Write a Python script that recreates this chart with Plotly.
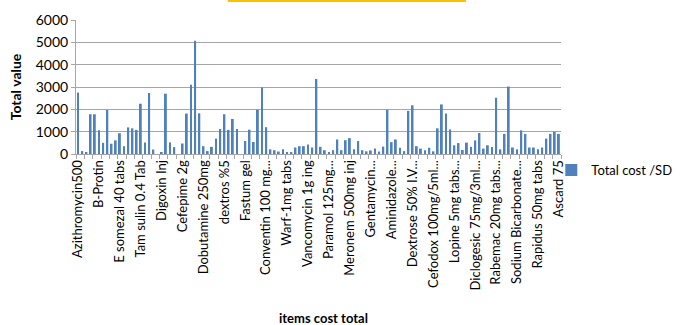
import plotly.graph_objects as go

# Labelled items (every 5th item on the axis)
labels = [
    "Azithromycin500", "B-Protin", "E somezal 40 tabs", "Tam sulin 0.4 Tab",
    "Digoxin Inj", "Cefepime 2g", "Dobutamine 250mg", "dextros %5",
    "Fastum gel", "Conventin 100 mg...", "Warf-1mg tabs", "Vancomycin 1g ing",
    "Paramol 125mg...", "Meronem 500mg inj", "Gentamycin...", "Aminidazole...",
    "Dextrose 50% I.V...", "Cefodox 100mg/5ml...", "Lopine 5mg tabs...",
    "Diclogesic 75mg/3ml...", "Rabemac 20mg tabs...", "Sodium Bicarbonate...",
    "Rapidus 50mg tabs", "Ascard 75",
]
label_step = 5

# Total cost per item
total_cost = [
    2750, 130, 60, 1780, 1780, 1060, 500, 1970, 460, 610,
    930, 350, 1190, 1150, 1080, 2250, 520, 2730, 200, 0,
    60, 2700, 520, 310, 0, 470, 1810, 3100, 5070, 1820,
    350, 130, 320, 690, 1120, 1780, 1080, 1570, 1120, 0,
    580, 1090, 540, 1980, 2980, 1200, 210, 170, 110, 210,
    80, 80, 290, 350, 350, 430, 290, 3360, 320, 170,
    80, 170, 650, 170, 620, 710, 210, 580, 170, 120,
    160, 250, 110, 330, 1980, 530, 650, 280, 130, 1930,
    2180, 350, 240, 170, 280, 120, 1150, 2220, 1810, 1100,
    390, 490, 180, 510, 320, 610, 940, 240, 390, 310,
    2520, 210, 900, 3020, 290, 210, 1060, 900, 290, 290,
    210, 290, 690, 900, 990, 900,
]

idx = list(range(len(total_cost)))
FONT = "Lato, 'Open Sans', sans-serif"
GRID = "#A6A6A6"

fig = go.Figure()
fig.add_trace(go.Bar(
    x=idx, y=total_cost, name="Total cost /SD",
    marker=dict(color="#4F81BD", line=dict(width=0)),
))

fig.update_layout(
    width=694, height=325,
    margin=dict(l=76, r=133, t=20, b=171),
    paper_bgcolor="white", plot_bgcolor="white",
    bargap=0.55,
    font=dict(family=FONT, size=13, color="#000000"),
    showlegend=True,
    legend=dict(x=0.980, y=-0.12, xanchor="left", yanchor="middle",
                font=dict(size=13), itemwidth=30, bgcolor="rgba(0,0,0,0)"),
    xaxis=dict(
        range=[-0.5, len(total_cost) - 0.5],
        tickmode="array",
        tickvals=idx[::label_step],
        ticktext=labels,
        tickangle=-90,
        ticks="",
        tickfont=dict(size=13),
        showline=True, linecolor=GRID, linewidth=1,
        showgrid=False, zeroline=False,
        automargin=False,
        minor=dict(ticks="outside", tick0=-0.5, dtick=2, ticklen=4,
                   tickcolor=GRID, showgrid=False),
    ),
    yaxis=dict(
        range=[0, 6000], dtick=1000,
        showgrid=True, gridcolor=GRID, gridwidth=1,
        showline=True, linecolor=GRID, linewidth=1,
        ticks="outside", ticklen=4, tickcolor=GRID,
        zeroline=False, automargin=False,
        tickfont=dict(size=14),
        title=dict(text="<b>Total value</b>", font=dict(size=14), standoff=10),
    ),
    annotations=[dict(text="<b>items cost total</b>", xref="paper", yref="paper",
                      x=0.51, y=-1.225, xanchor="center", yanchor="middle",
                      showarrow=False, font=dict(size=13))],
    shapes=[dict(type="rect", xref="paper", yref="paper",
                 x0=0.313, x1=0.804, y0=1.134, y1=1.152,
                 fillcolor="#FFC000", line=dict(width=0))],
)

fig.write_html("out.html")
